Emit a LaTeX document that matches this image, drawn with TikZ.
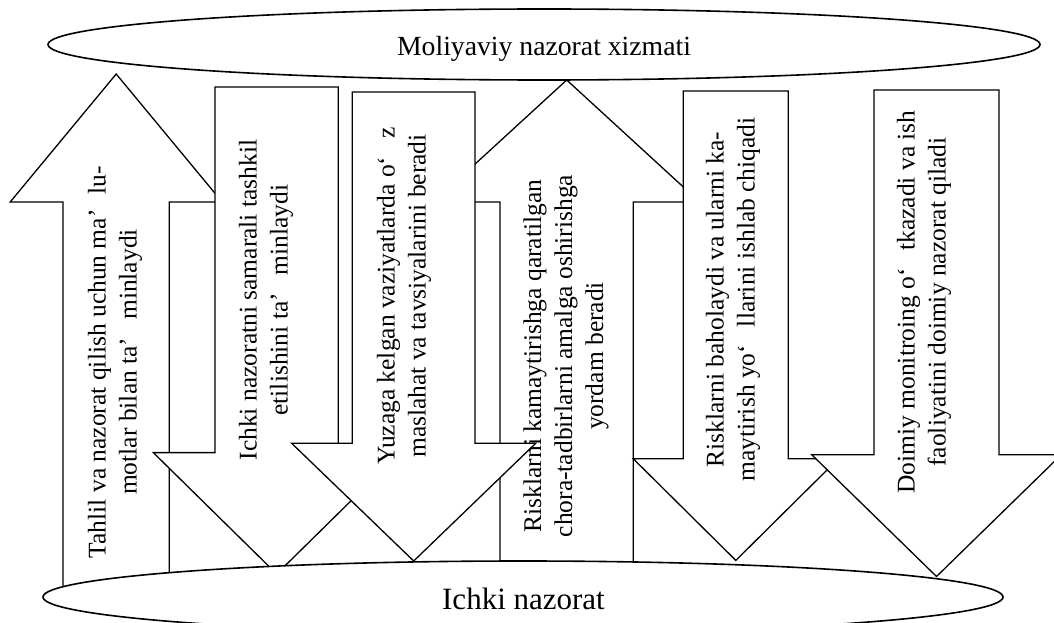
\documentclass[tikz,border=0pt]{standalone}
\usepackage{fontspec}
\setmainfont{Liberation Serif}
\usetikzlibrary{shapes.geometric}
\begin{document}
\begin{tikzpicture}[x=1pt,y=-1pt,
  arrowbody/.style={draw=black, fill=white, line width=1.3pt, line join=miter},
  oval/.style={ellipse, draw=black, fill=white, line width=1.6pt, inner sep=0pt},
  arrowtext/.style={rotate=90, align=center, font=\fontsize{25.5}{31}\selectfont, inner sep=0pt},
  ovaltext/.style={anchor=base, inner sep=0pt}]
\useasboundingbox (0,0) rectangle (1054,623);
% arrow 1 (up)
\draw[arrowbody] (63,600) -- (63,202) -- (10.2,202) -- (116.2,74) -- (222.2,202) -- (169.3,202) -- (169.3,600) -- cycle;
% arrow 2 (down)
\draw[arrowbody] (215,87) -- (338.3,87) -- (338.3,452.6) -- (400,452.6) -- (276.7,574) -- (153.3,452.6) -- (215,452.6) -- cycle;
% arrow 4 (up)
\draw[arrowbody] (500,600) -- (500,202) -- (433.7,202) -- (566.7,80) -- (699.7,202) -- (633.3,202) -- (633.3,600) -- cycle;
% arrow 3 (down)
\draw[arrowbody] (352.3,92) -- (475,92) -- (475,443.3) -- (535.7,443.3) -- (413.7,561) -- (291.7,443.3) -- (352.3,443.3) -- cycle;
% arrow 5 (down)
\draw[arrowbody] (683.3,91) -- (788.3,91) -- (788.3,458.8) -- (838.3,458.8) -- (735.8,560.4) -- (633.3,458.8) -- (683.3,458.8) -- cycle;
% arrow 6 (down)
\draw[arrowbody] (874,90) -- (999,90) -- (999,454.7) -- (1061.3,454.7) -- (936.5,576.5) -- (811.7,454.7) -- (874,454.7) -- cycle;
% ovals
\node[oval, minimum width=992pt, minimum height=71pt] (fin) at (544,44.5) {};
\node[oval, minimum width=960pt, minimum height=72pt] (ichki) at (523,597) {};
\node[ovaltext, font=\fontsize{27.7}{33}\selectfont] (fintext) at (544,56) {Moliyaviy nazorat xizmati};
\node[ovaltext, font=\fontsize{31}{37}\selectfont] (ichkitext) at (523.5,609.3) {Ichki nazorat};
% arrow texts
\node[arrowtext] (t1) at (115,362) {Tahlil va nazorat qilish uchun ma’\hspace{0.6em}lu-\\motlar bilan ta’\hspace{0.7em}minlaydi};
\node[arrowtext] (t2) at (266,300) {Ichki nazoratni samarali tashkil\\etilishini ta’\hspace{0.7em}minlaydi};
\node[arrowtext] (t3) at (404,296) {Yuzaga kelgan vaziyatlarda o‘\hspace{0.7em}z\\maslahat va tavsiyalarini beradi};
\node[arrowtext] (t4) at (566,356) {Risklarni kamaytirishga qaratilgan\\chora-tadbirlarni amalga oshirishga\\yordam beradi};
\node[arrowtext] (t5) at (733,299.5) {Risklarni baholaydi va ularni ka-\\maytirish yo‘\hspace{0.7em}llarini ishlab chiqadi};
\node[arrowtext] (t6) at (924,302) {Doimiy monitroing o‘\hspace{0.7em}tkazadi va ish\\faoliyatini doimiy nazorat qiladi};
\end{tikzpicture}
\end{document}
